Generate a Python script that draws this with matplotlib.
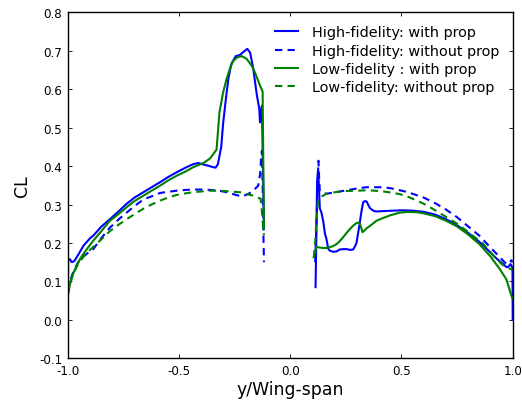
import numpy as np
import matplotlib
matplotlib.use('Agg')
from matplotlib import pyplot as plt

# high-fidelity, with prop
hf_prop_left_x = [-1.0, -0.998, -0.99, -0.982, -0.97, -0.95, -0.929, -0.9, -0.885, -0.85, -0.81, -0.77, -0.735, -0.7,
                  -0.66, -0.62, -0.585, -0.55, -0.51, -0.47, -0.436, -0.413, -0.39, -0.368, -0.346, -0.335, -0.325,
                  -0.31, -0.301, -0.29, -0.278, -0.265, -0.245, -0.226, -0.21, -0.193, -0.18, -0.166, -0.15, -0.139,
                  -0.136, -0.13, -0.127, -0.124, -0.118]
hf_prop_left_y = [0.0, 0.155, 0.158, 0.15, 0.153, 0.172, 0.193, 0.212, 0.219, 0.242, 0.262, 0.283, 0.302, 0.318,
                  0.332, 0.346, 0.358, 0.371, 0.384, 0.396, 0.405, 0.408, 0.404, 0.401, 0.397, 0.396, 0.405,
                  0.45, 0.514, 0.57, 0.627, 0.665, 0.686, 0.689, 0.697, 0.705, 0.695, 0.653, 0.585, 0.549,
                  0.514, 0.545, 0.557, 0.45, 0.236]
hf_prop_right_x = [0.114, 0.117, 0.121, 0.125, 0.129, 0.133, 0.14, 0.148, 0.156, 0.163, 0.171, 0.178, 0.193, 0.208,
                   0.223, 0.238, 0.253, 0.268, 0.283, 0.29, 0.298, 0.305, 0.313, 0.321, 0.328, 0.336, 0.343, 0.35,
                   0.358, 0.366, 0.377, 0.388, 0.42, 0.463, 0.5, 0.55, 0.6, 0.65, 0.7, 0.75, 0.8, 0.85, 0.9, 0.93,
                   0.956, 0.972, 0.98, 0.99, 0.995, 0.999, 1.0]
hf_prop_right_y = [0.085, 0.2, 0.36, 0.39, 0.35, 0.29, 0.28, 0.258, 0.225, 0.21, 0.185, 0.18, 0.177, 0.178,
                   0.183, 0.184, 0.184, 0.182, 0.183, 0.19, 0.2, 0.225, 0.254, 0.285, 0.306, 0.309, 0.308, 0.3,
                   0.291, 0.287, 0.283, 0.282, 0.283, 0.284, 0.285, 0.284, 0.281, 0.274, 0.262, 0.246, 0.226, 0.203,
                   0.175, 0.158, 0.146, 0.137, 0.138, 0.145, 0.14, 0.135, 0.0]

# high-fidelity, without prop
hf_noprop_left_x = [-1.0, -0.99, -0.975, -0.955, -0.93, -0.9, -0.885, -0.85, -0.81, -0.77, -0.735, -0.7, -0.66, -0.62,
                    -0.585, -0.55, -0.51, -0.47, -0.436, -0.4, -0.361, -0.32, -0.286, -0.25, -0.218, -0.19, -0.166,
                    -0.144, -0.135, -0.13, -0.127, -0.124, -0.121, -0.118]
hf_noprop_left_y = [0.075, 0.1, 0.125, 0.148, 0.165, 0.178, 0.184, 0.212, 0.24, 0.262, 0.279, 0.296, 0.313, 0.322,
                    0.33, 0.333, 0.336, 0.338, 0.339, 0.339, 0.338, 0.336, 0.332, 0.326, 0.321, 0.327, 0.336,
                    0.349, 0.38, 0.43, 0.44, 0.35, 0.24, 0.15]
hf_noprop_right_x = [0.112, 0.118, 0.123, 0.127, 0.13, 0.133, 0.141, 0.163, 0.193, 0.223, 0.253, 0.283, 0.313, 0.343,
                     0.38, 0.418, 0.455, 0.493, 0.53, 0.57, 0.6, 0.65, 0.7, 0.75, 0.8, 0.852, 0.897, 0.942, 0.972,
                     0.984, 0.994, 1.0]
hf_noprop_right_y = [0.15, 0.25, 0.35, 0.414, 0.37, 0.335, 0.331, 0.328, 0.331, 0.334, 0.337, 0.34, 0.343, 0.345,
                     0.345, 0.345, 0.342, 0.337, 0.332, 0.324, 0.318, 0.304, 0.287, 0.267, 0.243, 0.218, 0.19, 0.163,
                     0.145, 0.147, 0.155, 0.15]

# low-fidelity, with prop
lf_prop_left_x = [-1.0, -0.997, -0.99, -0.977, -0.96, -0.945, -0.929, -0.914, -0.885, -0.85, -0.81, -0.77, -0.735,
                  -0.7, -0.66, -0.62, -0.585, -0.55, -0.51, -0.47, -0.436, -0.39, -0.36, -0.331, -0.318, -0.302,
                  -0.286, -0.27, -0.256, -0.237, -0.218, -0.196, -0.173, -0.158, -0.144, -0.134, -0.124, -0.118]
lf_prop_left_y = [0.06, 0.07, 0.092, 0.118, 0.141, 0.158, 0.172, 0.184, 0.206, 0.23, 0.258, 0.276, 0.293,
                  0.309, 0.323, 0.337, 0.349, 0.362, 0.375, 0.386, 0.397, 0.408, 0.42, 0.443, 0.54, 0.59,
                  0.627, 0.655, 0.674, 0.683, 0.686, 0.679, 0.661, 0.643, 0.622, 0.607, 0.594, 0.236]
lf_prop_right_x = [0.106, 0.11, 0.117, 0.125, 0.133, 0.148, 0.163, 0.178, 0.193, 0.208, 0.223, 0.238, 0.253, 0.268,
                   0.283, 0.298, 0.31, 0.318, 0.325, 0.333, 0.343, 0.36, 0.388, 0.418, 0.45, 0.493, 0.53, 0.57,
                   0.6, 0.65, 0.7, 0.75, 0.8, 0.85, 0.9, 0.942, 0.972, 0.994, 1.0]
lf_prop_right_y = [0.163, 0.17, 0.19, 0.189, 0.188, 0.187, 0.187, 0.189, 0.192, 0.197, 0.205, 0.215, 0.226, 0.236,
                   0.245, 0.252, 0.253, 0.242, 0.228, 0.232, 0.238, 0.245, 0.258, 0.265, 0.272, 0.279, 0.281, 0.28,
                   0.277, 0.27, 0.258, 0.243, 0.222, 0.197, 0.165, 0.132, 0.105, 0.063, 0.055]

# low-fidelity, without prop
lf_noprop_left_x = [-1.0, -0.99, -0.975, -0.955, -0.935, -0.914, -0.885, -0.855, -0.81, -0.77, -0.735, -0.705, -0.66,
                    -0.62, -0.585, -0.55, -0.51, -0.47, -0.436, -0.4, -0.36, -0.32, -0.271, -0.226, -0.2, -0.166,
                    -0.133, -0.127, -0.121, -0.118]
lf_noprop_left_y = [0.065, 0.095, 0.12, 0.143, 0.16, 0.174, 0.19, 0.206, 0.231, 0.248, 0.262, 0.273, 0.289,
                    0.301, 0.31, 0.318, 0.325, 0.329, 0.332, 0.334, 0.336, 0.336, 0.334, 0.332, 0.328, 0.323,
                    0.315, 0.28, 0.236, 0.22]
lf_noprop_right_x = [0.106, 0.112, 0.117, 0.122, 0.126, 0.133, 0.148, 0.163, 0.2, 0.25, 0.3, 0.343, 0.38, 0.418,
                     0.455, 0.493, 0.53, 0.57, 0.6, 0.643, 0.7, 0.75, 0.792, 0.867, 0.927, 0.957, 0.98, 1.0]
lf_noprop_right_y = [0.163, 0.2, 0.25, 0.29, 0.31, 0.319, 0.323, 0.328, 0.332, 0.335, 0.336, 0.337, 0.336, 0.334,
                     0.331, 0.327, 0.32, 0.31, 0.302, 0.288, 0.268, 0.25, 0.232, 0.198, 0.158, 0.142, 0.135, 0.13]

labels = ['High-fidelity: with prop', 'High-fidelity: without prop',
          'Low-fidelity : with prop', 'Low-fidelity: without prop']
xticks = [-1.0, -0.5, 0.0, 0.5, 1.0]
yticks = [-0.1, 0.0, 0.1, 0.2, 0.3, 0.4, 0.5, 0.6, 0.7, 0.8]

fig = plt.figure(figsize=(5.22, 4.02), dpi=100)
ax = fig.add_axes([0.1297, 0.1062, 0.8525, 0.8607])

dash = (0, (3.5, 2.5))
lw = 1.5
l1, = ax.plot(hf_prop_left_x, hf_prop_left_y, color='b', lw=lw)
ax.plot(hf_prop_right_x, hf_prop_right_y, color='b', lw=lw)
l2, = ax.plot(hf_noprop_left_x, hf_noprop_left_y, color='b', lw=lw, ls=dash)
ax.plot(hf_noprop_right_x, hf_noprop_right_y, color='b', lw=lw, ls=dash)
l3, = ax.plot(lf_prop_left_x, lf_prop_left_y, color='g', lw=lw)
ax.plot(lf_prop_right_x, lf_prop_right_y, color='g', lw=lw)
l4, = ax.plot(lf_noprop_left_x, lf_noprop_left_y, color='g', lw=lw, ls=dash)
ax.plot(lf_noprop_right_x, lf_noprop_right_y, color='g', lw=lw, ls=dash)

ax.set_xlim(-1.0, 1.0)
ax.set_ylim(-0.1, 0.8)
ax.set_xticks(xticks)
ax.set_yticks(yticks)
ax.xaxis.set_major_formatter(matplotlib.ticker.FormatStrFormatter('%.1f'))
ax.yaxis.set_major_formatter(matplotlib.ticker.FormatStrFormatter('%.1f'))
ax.tick_params(direction='in', top=True, right=True, length=3, width=0.6, labelsize=8.6, pad=4)
for s in ax.spines.values():
    s.set_linewidth(1.0)

ax.set_xlabel('y/Wing-span', fontsize=12.4, labelpad=2)
ax.set_ylabel('CL', fontsize=12.4, labelpad=6)

ax.legend([l1, l2, l3, l4], labels, loc='upper right', frameon=False, fontsize=10.4,
          handlelength=1.6, handletextpad=1.0, labelspacing=0.3)

fig.savefig('out.png', dpi=100)
